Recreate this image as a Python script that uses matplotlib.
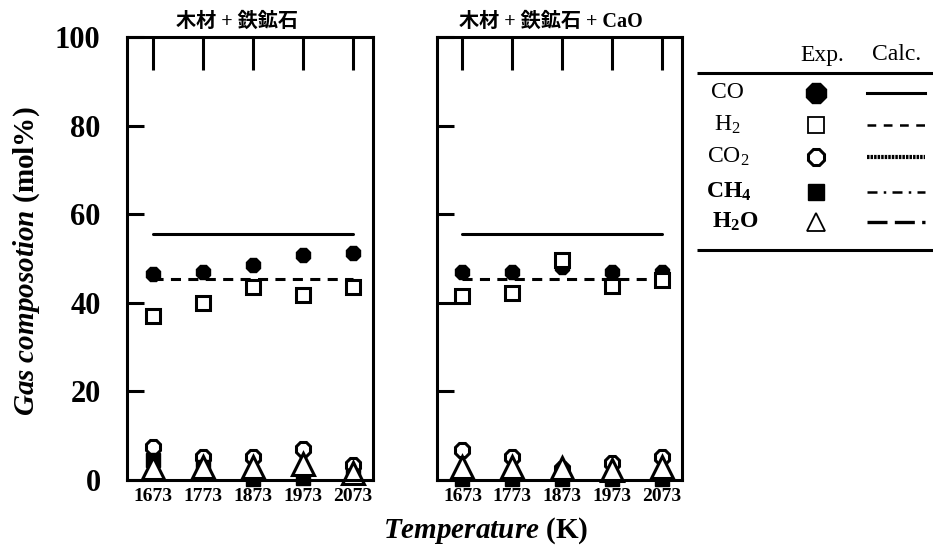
import matplotlib
matplotlib.use("Agg")
import matplotlib.pyplot as plt

plt.rcParams['font.family'] = ['Liberation Serif', 'Noto Sans CJK JP']
plt.rcParams['mathtext.fontset'] = 'custom'
plt.rcParams['mathtext.rm'] = 'Liberation Serif'
plt.rcParams['mathtext.it'] = 'Liberation Serif:italic'
plt.rcParams['mathtext.bf'] = 'Liberation Serif:bold'
plt.rcParams['mathtext.bfit'] = 'Liberation Serif:italic:bold'

# Reaction temperatures (K)
temps = [1673, 1773, 1873, 1973, 2073]
temp_labels = ['1673', '1773', '1873', '1973', '2073']
y_ticks = [0, 20, 40, 60, 80, 100]

# Panel titles
titles = ['木材 + 鉄鉱石', '木材 + 鉄鉱石 + CaO']

# Experimental gas composition (mol%), wood + iron ore
co_a = [46.6, 46.9, 48.6, 50.7, 51.2]
h2_a = [37.0, 40.0, 43.6, 41.7, 43.6]
co2_a = [7.5, 5.3, 5.3, 6.9, 3.4]
ch4_a = [4.5, 3.0, 0.3, 0.5, 0.8]
h2o_a = [2.7, 3.0, 3.0, 3.5, 1.5]

# Experimental gas composition (mol%), wood + iron ore + CaO
co_b = [46.9, 46.9, 48.0, 46.9, 46.9]
h2_b = [41.5, 42.2, 49.6, 43.9, 45.1]
co2_b = [6.8, 5.3, 2.5, 3.8, 5.3]
ch4_b = [0.2, 0.2, 0.2, 0.2, 0.2]
h2o_b = [3.0, 3.0, 2.8, 2.3, 3.0]

# Calculated equilibrium values (mol%)
co_calc = [55.5, 55.5]
h2_calc = [45.3, 45.3]

exp_sets = [
    (co_a, h2_a, co2_a, ch4_a, h2o_a),
    (co_b, h2_b, co2_b, ch4_b, h2o_b),
]

LW = 2.2
fig = plt.figure(figsize=(9.33, 5.58), dpi=100)
W, H = 933.0, 558.0
ax1 = fig.add_axes([127 / W, 78 / H, 246 / W, 443 / H])
ax2 = fig.add_axes([437 / W, 78 / H, 245 / W, 443 / H])
title_x = [0.446, 0.465]

for i, ax in enumerate([ax1, ax2]):
    co, h2, co2, ch4, h2o = exp_sets[i]
    ax.plot([temps[0], temps[-1]], [co_calc[i]] * 2, color='black', lw=LW,
            solid_capstyle='round', zorder=2)
    ax.plot([temps[0], temps[-1]], [h2_calc[i]] * 2, color='black', lw=LW,
            dashes=(3.3, 2.4), zorder=2)
    ax.plot(temps, co, ls='none', marker='8', ms=11, mfc='black', mec='black',
            zorder=3)
    ax.plot(temps, h2, ls='none', marker='s', ms=10, mfc='white', mec='black',
            mew=2.2, zorder=4)
    ax.plot(temps, co2, ls='none', marker='8', ms=10.5, mfc='white',
            mec='black', mew=2.2, zorder=5, clip_on=False)
    ax.plot(temps, ch4, ls='none', marker='s', ms=10, mfc='black', mec='black',
            zorder=6, clip_on=False)
    ax.plot(temps, h2o, ls='none', marker='^', ms=16, mfc='white', mec='black',
            mew=2.2, zorder=7, clip_on=False)

    ax.set_xlim(1622, 2113)
    ax.set_ylim(0, 100)
    ax.set_xticks(temps)
    ax.set_xticklabels(temp_labels)
    ax.set_yticks(y_ticks)
    ax.tick_params(axis='x', direction='in', top=True, bottom=False,
                   labelbottom=True, labeltop=False, length=24, width=LW,
                   pad=6, labelsize=14)
    ax.tick_params(axis='y', direction='in', left=True, right=False,
                   length=12, width=LW, pad=19, labelsize=22)
    for lbl in ax.get_xticklabels() + ax.get_yticklabels():
        lbl.set_fontweight('bold')
    for sp in ax.spines.values():
        sp.set_linewidth(LW)
        sp.set_zorder(10)
    ax.text(title_x[i], 1.012, titles[i], transform=ax.transAxes,
            ha='center', va='bottom', fontsize=14.5, fontweight='bold')

ax2.tick_params(axis='y', labelleft=False)

fig.text(27 / W, 1 - 261 / H, r'$\mathbfit{Gas\ composotion}$ (mol%)',
         rotation=90, ha='center', va='center', fontsize=21,
         fontweight='bold')
fig.text(486 / W, 1 - 531 / H, r'$\mathbfit{Temperature}$ (K)',
         ha='center', va='center', fontsize=21, fontweight='bold')

# Legend table: experimental markers and calculated line styles
lax = fig.add_axes([0, 0, 1, 1], zorder=20)
lax.set_xlim(0, W)
lax.set_ylim(H, 0)
lax.axis('off')
lax.patch.set_alpha(0)

lax.text(822, 55, 'Exp.', ha='center', va='center', fontsize=17)
lax.text(897, 55, 'Calc.', ha='center', va='center', fontsize=17)
lax.plot([697, 933], [73, 73], color='black', lw=LW, solid_capstyle='butt')
lax.plot([697, 933], [250, 250], color='black', lw=LW, solid_capstyle='butt')

species = ['CO', r'$\mathrm{H_2}$', r'$\mathrm{CO_2}$', r'$\mathbf{CH_4}$',
           r'$\mathbf{H_2O}$']
row_y = [93, 125, 157, 192, 222]
label_x = [727, 727, 728, 729, 735]
markers = [
    dict(marker='8', ms=16, mfc='black', mec='black'),
    dict(marker='s', ms=12, mfc='white', mec='black', mew=1.3),
    dict(marker='8', ms=13, mfc='white', mec='black', mew=2.2),
    dict(marker='s', ms=12, mfc='black', mec='black'),
    dict(marker='^', ms=13, mfc='white', mec='black', mew=1.3),
]
line_styles = [
    dict(lw=2.2, ls='-'),
    dict(lw=1.8, dashes=(3.5, 3.0)),
    dict(lw=3.0, dashes=(0.6, 0.25)),
    dict(lw=1.8, dashes=(4.0, 2.5, 1.0, 2.5)),
    dict(lw=2.4, dashes=(6.0, 2.2)),
]
for name, y, lx, mk, st in zip(species, row_y, label_x, markers, line_styles):
    lax.text(lx, y, name, ha='center', va='center', fontsize=17)
    lax.plot([816], [y], ls='none', **mk)
    lax.plot([867, 925], [y, y], color='black', **st)

fig.savefig('out.png', dpi=100)
